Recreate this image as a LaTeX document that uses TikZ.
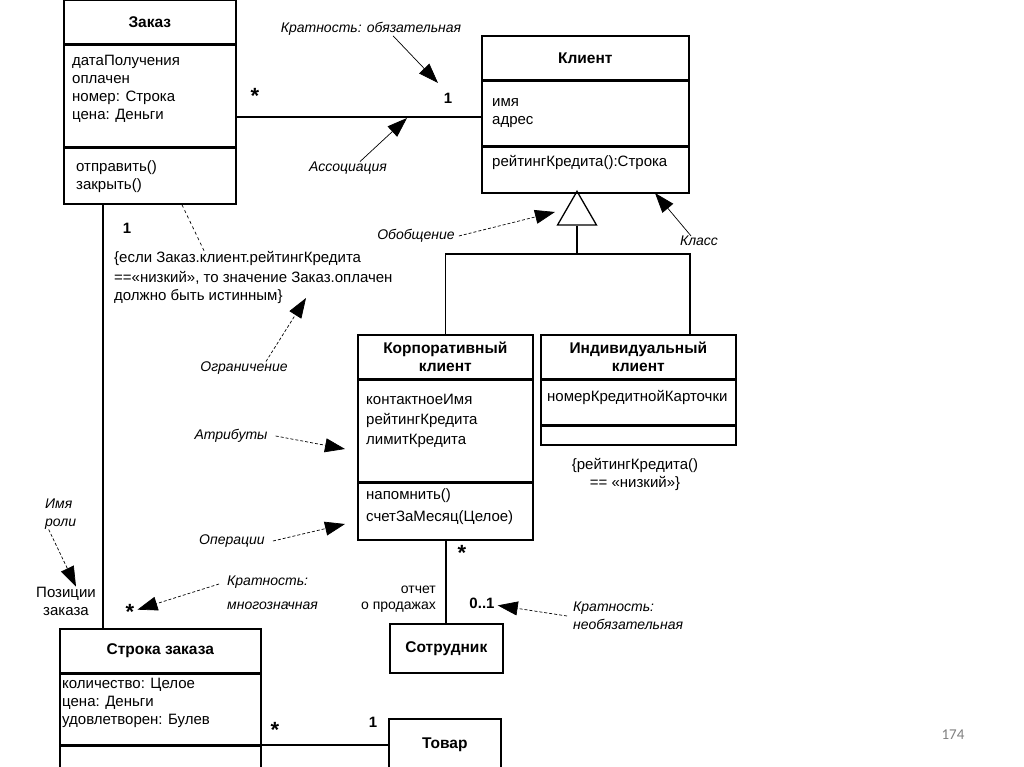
\documentclass[tikz,border=0pt]{standalone}
\usepackage{fontspec}
\setmainfont{Liberation Sans}
\newfontfamily\pagefont{Carlito}
\usetikzlibrary{arrows.meta,shapes.geometric}

\begin{document}
\begin{tikzpicture}[x=1pt,y=-1pt,
  every node/.style={font=\fontsize{15}{18}\selectfont,inner sep=0pt},
  box/.style={draw,line width=1.6pt,anchor=north west},
  title/.style={box,font=\fontsize{15.5}{18.5}\selectfont\bfseries,align=center},
  txt/.style={anchor=west,align=left},
  mult/.style={font=\fontsize{15}{18}\selectfont\bfseries,inner sep=3pt},
  star/.style={font=\fontsize{22}{22}\selectfont\bfseries,inner sep=3pt},
  note/.style={font=\fontsize{14}{18}\selectfont\itshape,align=left},
  conn/.style={line width=1.3pt},
  ptr/.style={-{Triangle[length=20pt,width=14pt]},line width=0.7pt},
  dptr/.style={ptr,densely dashed}]
 \useasboundingbox (0,0) rectangle (1024,767);
 \fill[white] (0,0) rectangle (1024,767);
 \clip (0,0) rectangle (1024,767);

 \node[title,minimum width=172,minimum height=44] (zakazHead) at (63,-1) {Заказ};
 \node[box,minimum width=172,minimum height=101] (zakazBody) at (zakazHead.south west) {};
 \node[box,minimum width=172,minimum height=56] (zakazOps) at (zakazBody.south west) {};
 \node[txt] (zakazAttr) at (72,89) {датаПолучения\\оплачен\\номер: Строка\\цена: Деньги};
 \node[txt] (zakazOper) at (76,177) {отправить()\\закрыть()};

 \node[title,minimum width=207,minimum height=44] (klientHead) at (481,35) {Клиент};
 \node[box,minimum width=207,minimum height=64] (klientBody) at (klientHead.south west) {};
 \node[box,minimum width=207,minimum height=46] (klientOps) at (klientBody.south west) {};
 \node[txt] (klientAttr) at (492,113) {имя\\адрес};
 \node[txt] (klientOper) at (492,162) {рейтингКредита():Строка};

 \node[title,minimum width=175,minimum height=44] (korpHead) at (357,334) {Корпоративный\\клиент};
 \node[box,minimum width=175,minimum height=101] (korpBody) at (korpHead.south west) {};
 \node[box,minimum width=175,minimum height=57] (korpOps) at (korpBody.south west) {};
 \node[txt] (korpAttr) at (366,421) {контактноеИмя\\[2pt]рейтингКредита\\[2pt]лимитКредита};
 \node[txt] (korpOper) at (366,507) {напомнить()\\[4pt]счетЗаМесяц(Целое)};

 \node[title,minimum width=195,minimum height=44] (indHead) at (540,334) {Индивидуальный\\клиент};
 \node[box,minimum width=195,minimum height=44] (indBody) at (indHead.south west) {};
 \node[box,minimum width=195,minimum height=19] (indOps) at (indBody.south west) {};
 \node[txt] (indAttr) at (547,397) {номерКредитнойКарточки};
 \node[align=center] (indCons) at (635,474) {\{рейтингКредита()\\== «низкий»\}};

 \node[title,minimum width=201,minimum height=44] (lineHead) at (59,628) {Строка заказа};
 \node[box,minimum width=201,minimum height=70] (lineBody) at (lineHead.south west) {};
 \node[box,minimum width=201,minimum height=50] (lineOps) at (lineBody.south west) {};
 \node[txt] (lineAttr) at (62,703) {количество: Целое\\цена: Деньги\\удовлетворен: Булев};

 \node[title,minimum width=113,minimum height=49] (sotr) at (389,623) {Сотрудник};
 \node[title,minimum width=112,minimum height=52] (tovar) at (388,718) {Товар};

 \node[draw,line width=1.3pt,regular polygon,regular polygon sides=3,minimum size=45,anchor=corner 1] (gen) at (577,190) {};

 \draw[conn] (zakazBody.east |- 0,117) -- (klientBody.west |- 0,117);
 \draw[conn] (zakazOps.south -| 103,0) -- (lineHead.north -| 103,0);
 \draw[conn] (gen.south) -- (gen.south |- 0,254) coordinate (fork);
 \draw[conn] (korpHead.north) |- (fork) -| (indHead.north -| 690,0);
 \draw[conn] (korpOps.south -| 446,0) -- (sotr.north -| 446,0);
 \draw[conn] (lineOps.east |- 0,745) -- (tovar.west |- 0,745);

 \node[anchor=west,align=left] (cons) at (114,277) {\{если Заказ.клиент.рейтингКредита\\[2pt]==«низкий», то значение Заказ.оплачен\\должно быть истинным\}};
 \draw[dashed,line width=0.7pt] (zakazOps.south -| 182,0) -- (cons.north -| 204,0);

 \node[star] (zStar) at (255,96) {*};
 \node[mult] (kOne) at (448,98) {1};
 \node[mult] (zOne) at (127,228) {1};
 \node[star] (kStar) at (462,553) {*};
 \node[mult] (sZero) at (482,603) {0..1};
 \node[star] (lStar) at (130,612) {*};
 \node[star] (tStar) at (275,730) {*};
 \node[mult] (tOne) at (373,722) {1};
 \node[anchor=east,align=right,font=\fontsize{14}{16}\selectfont] (report) at (436,599) {отчет\\о продажах};
 \node[align=center] (poz) at (66,601) {Позиции\\заказа};

 \node[note] (kratOb) at (371,29) {Кратность: обязательная};
 \node[note] (assoc) at (348,168) {Ассоциация};
 \node[note] (obob) at (416,236) {Обобщение};
 \node[note] (klass) at (699,241) {Класс};
 \node[note] (ogr) at (244,368) {Ограничение};
 \node[note] (atr) at (231,436) {Атрибуты};
 \node[note] (oper) at (232,541) {Операции};
 \node[note,anchor=west] (kratMn) at (227,593) {Кратность:\\[6pt]многозначная};
 \node[note,anchor=west] (kratNe) at (573,616) {Кратность:\\необязательная};
 \node[note,anchor=west] (imya) at (45,514) {Имя\\роли};

 \coordinate (oneTip) at (438,83);
 \coordinate (assocTip) at (407,118);
 \coordinate (ogrTip) at (306,298);
 \coordinate (atrTip) at (345,449);
 \coordinate (operTip) at (345,524);
 \coordinate (klassTip) at (655,193);
 \coordinate (obobTip) at (555,212);

 \draw[ptr] ([xshift=22]kratOb.south) -- (oneTip);
 \draw[ptr] ([xshift=12]assoc.north) -- (assocTip);
 \draw[dptr] ([xshift=4]obob.east) -- (obobTip);
 \draw[ptr] ([xshift=-8]klass.north) -- (klassTip);
 \draw[dptr] ([xshift=22]ogr.north) -- (ogrTip);
 \draw[dptr] ([xshift=8]atr.east) -- (atrTip);
 \draw[dptr] ([xshift=8]oper.east) -- (operTip);
 \draw[dptr] ([yshift=9,xshift=-8]kratMn.west) -- (lStar);
 \draw[dptr] ([xshift=-6]kratNe.west) -- (sZero);
 \draw[dptr] ([xshift=-12]imya.south) -- ([xshift=10]poz.north);

 \node[font=\pagefont\fontsize{15}{18}\selectfont,text=black!50] (page) at (953,735) {174};
\end{tikzpicture}
\end{document}
